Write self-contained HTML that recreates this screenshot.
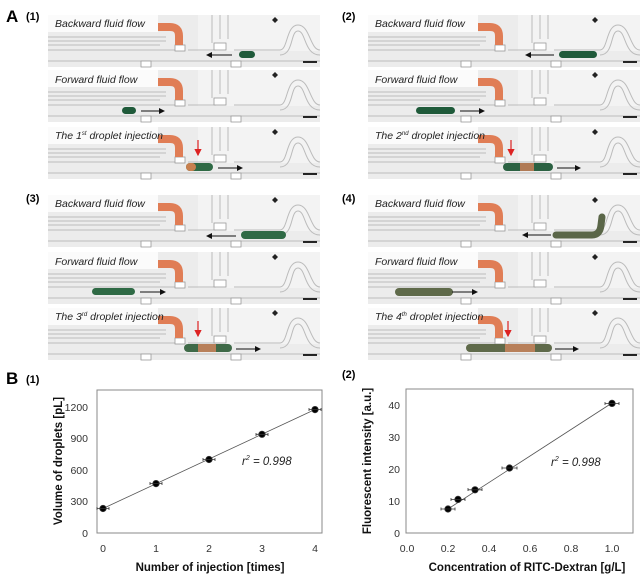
<!DOCTYPE html>
<html><head><meta charset="utf-8"><style>
body{margin:0;background:#fff;width:640px;height:576px;overflow:hidden}
svg{display:block}
text{font-family:"Liberation Sans",Arial,sans-serif}
.lb{font-size:10.5px;font-style:italic;fill:#222}
.t{font-size:10.5px;fill:#333}
.ax{font-size:11.5px;font-weight:bold;fill:#111}
</style></head><body>
<svg width="640" height="576" viewBox="0 0 640 576">
<defs>
<g id="strip">
<rect x="0" y="0" width="272" height="52" fill="#ececec"/>
<rect x="0" y="0" width="110" height="17" fill="#fbfbfb"/>
<rect x="150" y="0" width="122" height="36" fill="#f3f3f3"/>
<g stroke="#bbb" stroke-width="1" fill="none">
<line x1="0" y1="22" x2="118" y2="22"/>
<line x1="0" y1="26" x2="118" y2="26"/>
<line x1="0" y1="30" x2="112" y2="30"/>
<line x1="0" y1="35" x2="130" y2="35"/>
<line x1="0" y1="46" x2="272" y2="46"/>
<line x1="140" y1="35" x2="168" y2="35"/>
<line x1="186" y1="35" x2="232" y2="35"/>
<line x1="164" y1="0" x2="164" y2="28"/>
<line x1="172" y1="0" x2="172" y2="24"/>
<line x1="180" y1="24" x2="180" y2="0"/>
<path d="M232 35 C240 35 238 10 250 10 C262 10 262 35 272 35"/>
<path d="M232 40 C246 40 242 16 250 16 C258 16 256 40 272 40"/>
</g>
<rect x="127" y="30" width="10" height="6" fill="#fff" stroke="#999" stroke-width="0.8"/>
<rect x="166" y="28" width="12" height="7" fill="#fff" stroke="#999" stroke-width="0.8"/>
<rect x="93" y="46" width="10" height="6" fill="#fff" stroke="#999" stroke-width="0.8"/>
<rect x="183" y="46" width="10" height="6" fill="#fff" stroke="#999" stroke-width="0.8"/>
<path d="M110 12 L122 12 Q131 12 131 21 L131 30" stroke="#e07d55" stroke-width="8" fill="none"/>
<path d="M227 2 L230 5 L227 8 L224 5 Z" fill="#222"/>
<line x1="255" y1="47" x2="269" y2="47" stroke="#111" stroke-width="1.8"/>
</g>
<marker id="ar" markerWidth="6" markerHeight="6" refX="5" refY="3" orient="auto"><path d="M0 0 L6 3 L0 6Z" fill="#111"/></marker>
<marker id="arr" markerWidth="6" markerHeight="6" refX="5" refY="3" orient="auto"><path d="M0 0 L6 3 L0 6Z" fill="#d22"/></marker>
</defs>

<text x="6" y="22" font-size="17" font-weight="bold">A</text>
<text x="26" y="20" font-size="11" font-weight="bold">(1)</text>
<text x="342" y="20" font-size="11" font-weight="bold">(2)</text>
<text x="26" y="202" font-size="11" font-weight="bold">(3)</text>
<text x="342" y="202" font-size="11" font-weight="bold">(4)</text>

<use href="#strip" x="48" y="15"/><use href="#strip" x="48" y="70"/><use href="#strip" x="48" y="127"/>
<text class="lb" x="55" y="27">Backward fluid flow</text>
<text class="lb" x="55" y="83">Forward fluid flow</text>
<text class="lb" x="55" y="139">The 1<tspan font-size="6" dy="-4">st</tspan><tspan dy="4"> droplet injection</tspan></text>
<rect x="239" y="51" width="16" height="7" rx="3.5" fill="#1f5a3a"/>
<line x1="232" y1="55" x2="207" y2="55" stroke="#111" marker-end="url(#ar)"/>
<rect x="122" y="107" width="14" height="7" rx="3.5" fill="#1f5a3a"/>
<line x1="141" y1="111" x2="164" y2="111" stroke="#111" marker-end="url(#ar)"/>
<rect x="186" y="163" width="27" height="8" rx="4" fill="#2f6a45"/><rect x="186" y="163" width="10" height="8" rx="4" fill="#c8804f"/>
<line x1="218" y1="168" x2="242" y2="168" stroke="#111" marker-end="url(#ar)"/>
<line x1="198" y1="140" x2="198" y2="155" stroke="#d22" stroke-width="1.2" marker-end="url(#arr)"/>

<use href="#strip" x="368" y="15"/><use href="#strip" x="368" y="70"/><use href="#strip" x="368" y="127"/>
<text class="lb" x="375" y="27">Backward fluid flow</text>
<text class="lb" x="375" y="83">Forward fluid flow</text>
<text class="lb" x="375" y="139">The 2<tspan font-size="6" dy="-4">nd</tspan><tspan dy="4"> droplet injection</tspan></text>
<rect x="559" y="51" width="38" height="7" rx="3.5" fill="#1f5a3a"/>
<line x1="554" y1="55" x2="526" y2="55" stroke="#111" marker-end="url(#ar)"/>
<rect x="416" y="107" width="39" height="7" rx="3.5" fill="#1f5a3a"/>
<line x1="460" y1="111" x2="484" y2="111" stroke="#111" marker-end="url(#ar)"/>
<rect x="503" y="163" width="50" height="8" rx="4" fill="#2b6142"/><rect x="520" y="163" width="14" height="8" fill="#b07a55"/>
<line x1="557" y1="168" x2="580" y2="168" stroke="#111" marker-end="url(#ar)"/>
<line x1="511" y1="140" x2="511" y2="155" stroke="#d22" stroke-width="1.2" marker-end="url(#arr)"/>

<use href="#strip" x="48" y="195"/><use href="#strip" x="48" y="252"/><use href="#strip" x="48" y="308"/>
<text class="lb" x="55" y="207">Backward fluid flow</text>
<text class="lb" x="55" y="265">Forward fluid flow</text>
<text class="lb" x="55" y="320">The 3<tspan font-size="6" dy="-4">rd</tspan><tspan dy="4"> droplet injection</tspan></text>
<rect x="241" y="231" width="45" height="8" rx="4" fill="#2f6a45"/>
<line x1="236" y1="236" x2="207" y2="236" stroke="#111" marker-end="url(#ar)"/>
<rect x="92" y="288" width="43" height="7" rx="3.5" fill="#2f6a45"/>
<line x1="140" y1="292" x2="165" y2="292" stroke="#111" marker-end="url(#ar)"/>
<rect x="184" y="344" width="48" height="8" rx="4" fill="#3f6a48"/><rect x="198" y="344" width="18" height="8" fill="#b8805a"/>
<line x1="236" y1="349" x2="260" y2="349" stroke="#111" marker-end="url(#ar)"/>
<line x1="198" y1="321" x2="198" y2="336" stroke="#d22" stroke-width="1.2" marker-end="url(#arr)"/>

<use href="#strip" x="368" y="195"/><use href="#strip" x="368" y="252"/><use href="#strip" x="368" y="308"/>
<text class="lb" x="375" y="207">Backward fluid flow</text>
<text class="lb" x="375" y="265">Forward fluid flow</text>
<text class="lb" x="375" y="320">The 4<tspan font-size="6" dy="-4">th</tspan><tspan dy="4"> droplet injection</tspan></text>
<path d="M556 235 L592 235 Q600 235 601 225 L602 217" stroke="#5a6648" stroke-width="7" fill="none" stroke-linecap="round"/>
<line x1="551" y1="235" x2="523" y2="235" stroke="#111" marker-end="url(#ar)"/>
<rect x="395" y="288" width="58" height="8" rx="4" fill="#5f6a4a"/>
<line x1="452" y1="292" x2="477" y2="292" stroke="#111" marker-end="url(#ar)"/>
<rect x="466" y="344" width="86" height="8" rx="4" fill="#5f6a4a"/><rect x="505" y="344" width="30" height="8" fill="#b8805a"/>
<line x1="555" y1="349" x2="578" y2="349" stroke="#111" marker-end="url(#ar)"/>
<line x1="508" y1="321" x2="508" y2="336" stroke="#d22" stroke-width="1.2" marker-end="url(#arr)"/>

<text x="6" y="384" font-size="17" font-weight="bold">B</text>
<text x="26" y="383" font-size="11" font-weight="bold">(1)</text>
<text x="342" y="378" font-size="11" font-weight="bold">(2)</text>

<rect x="97" y="390" width="225" height="143" fill="none" stroke="#888" stroke-width="1"/>
<g class="t" text-anchor="end">
<text x="88" y="537">0</text><text x="88" y="505">300</text><text x="88" y="474">600</text><text x="88" y="442">900</text><text x="88" y="411">1200</text>
</g>
<g class="t" text-anchor="middle">
<text x="103" y="552">0</text><text x="156" y="552">1</text><text x="209" y="552">2</text><text x="262" y="552">3</text><text x="315" y="552">4</text>
</g>
<text class="ax" x="210" y="571" text-anchor="middle">Number of injection [times]</text>
<text class="ax" transform="translate(62,461) rotate(-90)" text-anchor="middle">Volume of droplets [pL]</text>
<line x1="103" y1="508.5" x2="315" y2="409.5" stroke="#555" stroke-width="0.8"/>
<g fill="#000" stroke="#333" stroke-width="0.8">
<circle cx="103" cy="508.5" r="3.2"/><path d="M97 507v3M109 507v3M97 508.5h12"/>
<circle cx="156" cy="483.6" r="3.2"/><path d="M150 482v3M162 482v3M150 483.6h12"/>
<circle cx="209" cy="459.5" r="3.2"/><path d="M203 458v3M215 458v3M203 459.5h12"/>
<circle cx="262" cy="434.3" r="3.2"/><path d="M256 433v3M268 433v3M256 434.3h12"/>
<circle cx="315" cy="409.6" r="3.2"/><path d="M309 408v3M321 408v3M309 409.6h12"/>
</g>
<text x="242" y="465" font-size="11.5" font-style="italic" fill="#222">r<tspan font-size="7" dy="-5">2</tspan><tspan dy="5"> = 0.998</tspan></text>

<rect x="406" y="389" width="227" height="144" fill="none" stroke="#888" stroke-width="1"/>
<g class="t" text-anchor="end">
<text x="400" y="537">0</text><text x="400" y="505">10</text><text x="400" y="473">20</text><text x="400" y="441">30</text><text x="400" y="409">40</text>
</g>
<g class="t" text-anchor="middle">
<text x="407" y="552">0.0</text><text x="448" y="552">0.2</text><text x="489" y="552">0.4</text><text x="530" y="552">0.6</text><text x="571" y="552">0.8</text><text x="612" y="552">1.0</text>
</g>
<text class="ax" x="527" y="571" text-anchor="middle">Concentration of RITC-Dextran [g/L]</text>
<text class="ax" transform="translate(371,461) rotate(-90)" text-anchor="middle">Fluorescent intensity [a.u.]</text>
<line x1="448" y1="509" x2="612" y2="403" stroke="#555" stroke-width="0.8"/>
<g fill="#000" stroke="#333" stroke-width="0.8">
<circle cx="448" cy="509" r="3.2"/><path d="M441 507.5v3M455 507.5v3M441 509h14"/>
<circle cx="458" cy="499.4" r="3.2"/><path d="M451 498v3M465 498v3M451 499.4h14"/>
<circle cx="475" cy="489.8" r="3.2"/><path d="M468 488v3M482 488v3M468 489.8h14"/>
<circle cx="509.5" cy="468" r="3.2"/><path d="M502 466.5v3M517 466.5v3M502 468h15"/>
<circle cx="612" cy="403.4" r="3.2"/><path d="M605 402v3M619 402v3M605 403.4h14"/>
</g>
<text x="551" y="466" font-size="11.5" font-style="italic" fill="#222">r<tspan font-size="7" dy="-5">2</tspan><tspan dy="5"> = 0.998</tspan></text>
</svg>
</body></html>
